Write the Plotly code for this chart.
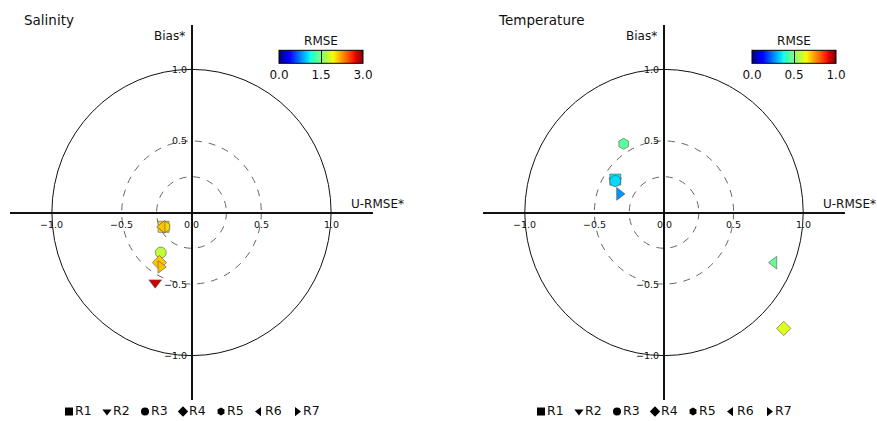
import numpy as np
import plotly.graph_objects as go

# ---------------- data ----------------
regions = ["R1", "R2", "R3", "R4", "R5", "R6", "R7"]
symbols = ["square", "triangle-down", "circle", "diamond", "hexagon", "triangle-left", "triangle-right"]

sal_urmse = [-0.20, -0.26, -0.22, -0.23, -0.19, -0.21, -0.22]
sal_bias = [-0.10, -0.49, -0.28, -0.35, -0.10, -0.10, -0.38]
sal_rmse = [2.05, 2.80, 1.74, 2.10, 2.05, 2.10, 2.12]

tmp_urmse = [-0.35, -0.35, -0.35, 0.86, -0.29, 0.79, -0.32]
tmp_bias = [0.23, 0.22, 0.22, -0.81, 0.48, -0.35, 0.13]
tmp_rmse = [0.35, 0.34, 0.34, 0.62, 0.46, 0.47, 0.27]

x_ticks = [-1.0, -0.5, 0.0, 0.5, 1.0]
y_ticks = [-1.0, -0.5, 0.5, 1.0]
circle_solid = [1.0]
circle_dashed = [0.5, 0.25]

# ---------------- matplotlib "jet" colorscale ----------------
red = [(0, 0), (0.35, 0), (0.66, 1), (0.89, 1), (1, 0.5)]
green = [(0, 0), (0.125, 0), (0.375, 1), (0.64, 1), (0.91, 0), (1, 0)]
blue = [(0, 0.5), (0.11, 1), (0.34, 1), (0.65, 0), (1, 0)]
stops = sorted(set([p[0] for p in red + green + blue]))


def chan(seg, t):
    return float(np.interp(t, [p[0] for p in seg], [p[1] for p in seg]))


jet = [[t, "rgb(%d,%d,%d)" % (round(255 * chan(red, t)), round(255 * chan(green, t)), round(255 * chan(blue, t)))] for t in stops]

W, H = 877, 421
FONT = "DejaVu Sans"

fig = go.Figure()

panels = [
    dict(x=sal_urmse, y=sal_bias, c=sal_rmse, xa="x", ya="y", ca="coloraxis",
         dom=[10 / W, 373 / W], title="Salinity", tx=22),
    dict(x=tmp_urmse, y=tmp_bias, c=tmp_rmse, xa="x2", ya="y2", ca="coloraxis2",
         dom=[483 / W, 845 / W], title="Temperature", tx=496),
]

ydom = [1 - 400 / H, 1 - 25 / H]
annotations = []
shapes = []

for i, p in enumerate(panels):
    fig.add_trace(go.Scatter(
        x=p["x"], y=p["y"], mode="markers", xaxis=p["xa"], yaxis=p["ya"],
        marker=dict(symbol=symbols, size=11, color=p["c"], coloraxis=p["ca"],
                    line=dict(color="#555555", width=0.6)),
        showlegend=False, hoverinfo="skip"))
    suffix = "" if i == 0 else "2"
    axkw = dict(showgrid=False, showticklabels=False, ticks="", zeroline=True,
                zerolinecolor="#111111", zerolinewidth=2, showline=False)
    fig.update_layout({
        "xaxis" + suffix: dict(domain=p["dom"], range=[-1.3, 1.3], anchor="y" + suffix, **axkw),
        "yaxis" + suffix: dict(domain=ydom, range=[-1.31, 1.31], anchor="x" + suffix, **axkw),
    })
    for r in circle_solid:
        shapes.append(dict(type="circle", xref=p["xa"], yref=p["ya"], x0=-r, x1=r, y0=-r, y1=r,
                           line=dict(color="#111111", width=1), layer="below"))
    for r in circle_dashed:
        shapes.append(dict(type="circle", xref=p["xa"], yref=p["ya"], x0=-r, x1=r, y0=-r, y1=r,
                           line=dict(color="#666666", width=1, dash="7px,7px"), layer="below"))
    for t in x_ticks:
        annotations.append(dict(x=t, y=0, xref=p["xa"], yref=p["ya"], text=("%.1f" % t).replace("-", "\u2212"),
                                showarrow=False, xanchor="center", yanchor="top", yshift=-4,
                                font=dict(family=FONT, size=9.5, color="#111111")))
    for t in y_ticks:
        annotations.append(dict(x=0, y=t, xref=p["xa"], yref=p["ya"], text=("%.1f" % t).replace("-", "\u2212"),
                                showarrow=False, xanchor="right", yanchor="middle", xshift=-3,
                                font=dict(family=FONT, size=9.5, color="#111111")))
    annotations.append(dict(x=0, y=1.23, xref=p["xa"], yref=p["ya"], text="Bias*", showarrow=False,
                            xanchor="right", yanchor="middle", xshift=-5,
                            font=dict(family=FONT, size=12, color="#111111")))
    annotations.append(dict(x=1.13, y=0.06, xref=p["xa"], yref=p["ya"], text="U-RMSE*", showarrow=False,
                            xanchor="left", yanchor="middle",
                            font=dict(family=FONT, size=12, color="#111111")))
    annotations.append(dict(x=p["tx"] / W, y=1 - 20 / H, xref="paper", yref="paper", text=p["title"],
                            showarrow=False, xanchor="left", yanchor="middle",
                            font=dict(family=FONT, size=13.5, color="#111111")))

# legend rows (one under each panel)
leg_axes = [("x3", "y3", [59 / W, 307 / W]), ("x4", "y4", [531 / W, 779 / W])]
for j, (xa, ya, dom) in enumerate(leg_axes):
    fig.add_trace(go.Scatter(
        x=list(range(len(regions))), y=[0] * len(regions), mode="markers+text",
        text=regions, textposition="middle right",
        textfont=dict(family=FONT, size=12.5, color="#111111"),
        marker=dict(symbol=symbols, size=8, color="black"),
        xaxis=xa, yaxis=ya, showlegend=False, hoverinfo="skip", cliponaxis=False))
    k = "3" if j == 0 else "4"
    hid = dict(visible=False, showgrid=False, zeroline=False)
    fig.update_layout({
        "xaxis" + k: dict(domain=dom, range=[-0.263, 6.263], anchor="y" + k, **hid),
        "yaxis" + k: dict(domain=[0, 0.045], range=[-1, 1], anchor="x" + k, **hid),
    })

cb_common = dict(orientation="h", lenmode="pixels", len=84, thickness=13,
                 xanchor="center", yanchor="middle", y=1 - 66 / H,
                 outlinewidth=1, outlinecolor="black", ticks="inside", ticklen=13,
                 tickcolor="black", tickwidth=1,
                 title=dict(side="top", font=dict(family=FONT, size=12, color="#111111")),
                 tickfont=dict(family=FONT, size=12, color="#111111"), xpad=0, ypad=0)

fig.update_layout(
    width=W, height=H, margin=dict(l=0, r=0, t=0, b=0),
    paper_bgcolor="white", plot_bgcolor="white",
    font=dict(family=FONT),
    coloraxis=dict(colorscale=jet, cmin=0, cmax=3,
                   colorbar=dict(x=321 / W, tickvals=[0, 1.5, 3], ticktext=["0.0", "1.5", "3.0"],
                                 **{**cb_common, "title": dict(text="RMSE", **cb_common["title"])})),
    coloraxis2=dict(colorscale=jet, cmin=0, cmax=1,
                    colorbar=dict(x=794 / W, tickvals=[0, 0.5, 1], ticktext=["0.0", "0.5", "1.0"],
                                  **{**cb_common, "title": dict(text="RMSE", **cb_common["title"])})),
    shapes=shapes, annotations=annotations, showlegend=False,
)

fig.write_html("out.html", config={"displayModeBar": False},
               post_script="document.body.style.margin='0px';document.body.style.overflow='hidden';")
